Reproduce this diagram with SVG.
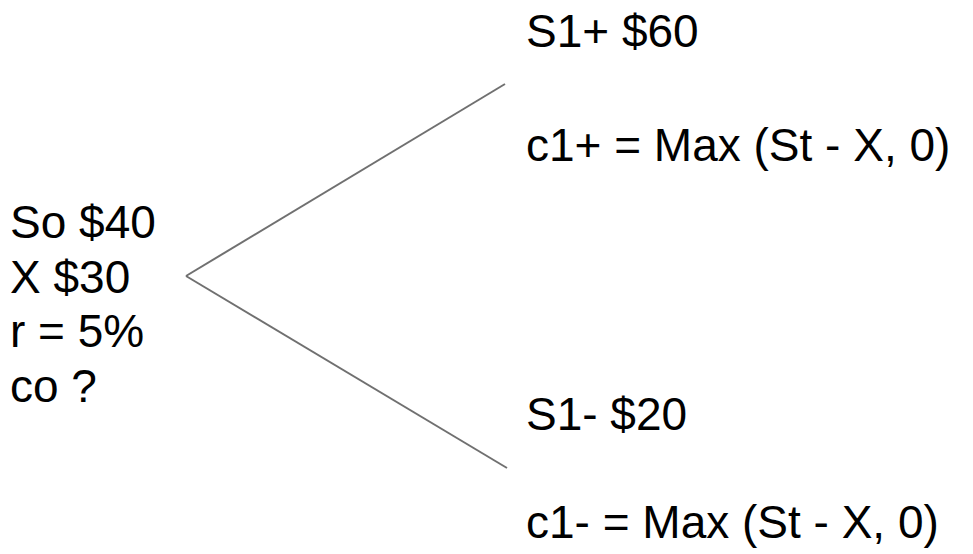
<svg xmlns="http://www.w3.org/2000/svg" width="973" height="554" viewBox="0 0 973 554">
<style>
text { font-family: "Liberation Sans", Arial, sans-serif; font-size: 46px; fill: #000; }
.edge { stroke: #707070; stroke-width: 2; fill: none; }
</style>
<rect width="973" height="554" fill="#fff"/>
<g id="connectors">
<line class="edge" x1="186" y1="276" x2="505" y2="84"/>
<line class="edge" x1="186" y1="276" x2="507" y2="468"/>
</g>
<g id="root">
<text x="10" y="238">So $40</text>
<text x="10" y="293">X $30</text>
<text x="10" y="347">r = 5%</text>
<text x="10" y="402">co ?</text>
</g>
<g id="up">
<text x="526" y="47">S1+ $60</text>
<text x="526" y="161">c1+ = Max (St - X, 0)</text>
</g>
<g id="down">
<text x="526" y="430">S1- $20</text>
<text x="526" y="538">c1- = Max (St - X, 0)</text>
</g>
</svg>
